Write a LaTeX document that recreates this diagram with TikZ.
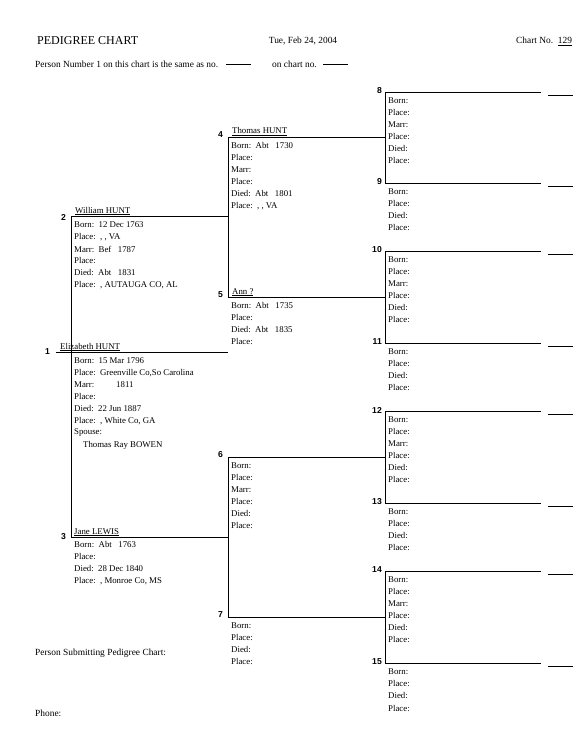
\documentclass[tikz,border=0pt]{standalone}
\usepackage{fontspec}
\setmainfont{Liberation Serif}
\newfontfamily\numfont{Liberation Sans}
\begin{document}
\begin{tikzpicture}[x=1pt,y=-1pt,
  ln/.style={line width=0.9pt},
  txt/.style={font=\fontsize{8.8}{10}\selectfont, anchor=west, inner sep=0pt},
  hd/.style={font=\fontsize{9.4}{10}\selectfont, anchor=west, inner sep=0pt},
  nm/.style={font=\fontsize{8.8}{10}\selectfont, anchor=base west, inner sep=0pt},
  num/.style={font=\numfont\bfseries\fontsize{8.6}{10}\selectfont, anchor=east, inner sep=0pt}]
\useasboundingbox[fill=white] (0,0) rectangle (576,754);

% header
\node[hd,font=\fontsize{12}{13}\selectfont] (title) at (37,41) {PEDIGREE CHART};
\node[hd,anchor=center] (date) at (303,41) {Tue, Feb 24, 2004};
\node[hd] (chartno) at (516,41) {Chart No.\ \ \underline{129}};
\node[hd] (same) at (35,64) {Person Number 1 on this chart is the same as no.};
\node[hd] (blank1) at (226,64) {\underline{\hspace{25pt}}};
\node[hd] (onchart) at (272,64) {on chart no.};
\node[hd] (blank2) at (323,64) {\underline{\hspace{25pt}}};

% generation 4 (8-15)
\foreach \n/\y in {8/92,10/251,12/411,14/571} {
  \coordinate (s\n) at (385,\y); \coordinate (e\n) at (541,\y);
  \draw[ln] (s\n) -- (e\n);
  \coordinate (ts\n) at (548,{\y+3}); \coordinate (te\n) at (573,{\y+3});
  \draw[ln] (ts\n) -- (te\n);
  \node[num] (n\n) at (382,{\y-1}) {\n};
  \foreach \t [count=\i] in {Born:,Place:,Marr:,Place:,Died:,Place:}
    \node[txt] (d\n-\i) at (388,{\y-3+12*\i}) {\t};
}
\foreach \n/\y in {9/183,11/343,13/503,15/663} {
  \coordinate (s\n) at (385,\y); \coordinate (e\n) at (541,\y);
  \draw[ln] (s\n) -- (e\n);
  \coordinate (ts\n) at (548,{\y+3}); \coordinate (te\n) at (573,{\y+3});
  \draw[ln] (ts\n) -- (te\n);
  \node[num] (n\n) at (382,{\y-1}) {\n};
  \foreach \t [count=\i] in {Born:,Place:,Died:,Place:}
    \node[txt] (d\n-\i) at (388,{\y-3+12*\i}) {\t};
}
\draw[ln] (s8) -- (s9);
\draw[ln] (s10) -- (s11);
\draw[ln] (s12) -- (s13);
\draw[ln] (s14) -- (s15);

% generation 3 (4-7)
\foreach \n/\y in {4/137,5/297,6/457,7/617} {
  \coordinate (s\n) at (228,\y); \coordinate (e\n) at (385,\y);
  \draw[ln] (s\n) -- (e\n);
  \node[num] (n\n) at (223,{\y-2}) {\n};
}
\draw[ln] (s4) -- (s5);
\draw[ln] (s6) -- (s7);
\node[nm] (name4) at (232,134) {\underline{Thomas HUNT}};
\foreach \t [count=\i] in {{Born:\ \ Abt\ \ \ 1730},Place:,Marr:,Place:,{Died:\ \ Abt\ \ \ 1801},{Place:\ \ , , VA}}
  \node[txt] (d4-\i) at (231,{134+12*\i}) {\t};
\node[nm] (name5) at (232,294) {\underline{Ann ?}};
\foreach \t [count=\i] in {{Born:\ \ Abt\ \ \ 1735},Place:,{Died:\ \ Abt\ \ \ 1835},Place:}
  \node[txt] (d5-\i) at (231,{294+12*\i}) {\t};
\foreach \t [count=\i] in {Born:,Place:,Marr:,Place:,Died:,Place:}
  \node[txt] (d6-\i) at (231,{454+12*\i}) {\t};
\foreach \t [count=\i] in {Born:,Place:,Died:,Place:}
  \node[txt] (d7-\i) at (231,{614+12*\i}) {\t};

% generation 2 (2-3)
\coordinate (s2) at (71,216); \coordinate (e2) at (228,216);
\coordinate (s3) at (71,537); \coordinate (e3) at (228,537);
\draw[ln] (s2) -- (e2);
\draw[ln] (s3) -- (e3);
\draw[ln] (s2) -- (s3);
\node[num] (n2) at (66,217) {2};
\node[num] (n3) at (66,537) {3};
\node[nm] (name2) at (75,213) {\underline{William HUNT}};
\foreach \t [count=\i] in {{Born:\ \ 12 Dec 1763},{Place:\ \ , , VA},{Marr:\ \ Bef\ \ \ 1787},Place:,{Died:\ \ Abt\ \ \ 1831},{Place:\ \ , AUTAUGA CO, AL}}
  \node[txt] (d2-\i) at (74,{213+12*\i}) {\t};
\node[nm] (name3) at (74,534) {\underline{Jane LEWIS}};
\foreach \t [count=\i] in {{Born:\ \ Abt\ \ \ 1763},Place:,{Died:\ \ 28 Dec 1840},{Place:\ \ , Monroe Co, MS}}
  \node[txt] (d3-\i) at (74,{533+12*\i}) {\t};

% generation 1
\coordinate (s1) at (56,352); \coordinate (e1) at (228,352);
\draw[ln] (s1) -- (e1);
\node[num] (n1) at (50,352) {1};
\node[nm] (name1) at (60,349) {\underline{Elizabeth HUNT}};
\foreach \t [count=\i] in {{Born:\ \ 15 Mar 1796},{Place:\ \ Greenville Co,So Carolina},{Marr:\hspace{22pt}1811},Place:,{Died:\ \ 22 Jun 1887},{Place:\ \ , White Co, GA},Spouse:,{\hspace{9pt}Thomas Ray BOWEN}}
  \node[txt] (d1-\i) at (74,{349+12*\i}) {\t};

% footer
\node[hd] (submit) at (35,653) {Person Submitting Pedigree Chart:};
\node[hd] (phone) at (35,713) {Phone:};
\end{tikzpicture}
\end{document}
